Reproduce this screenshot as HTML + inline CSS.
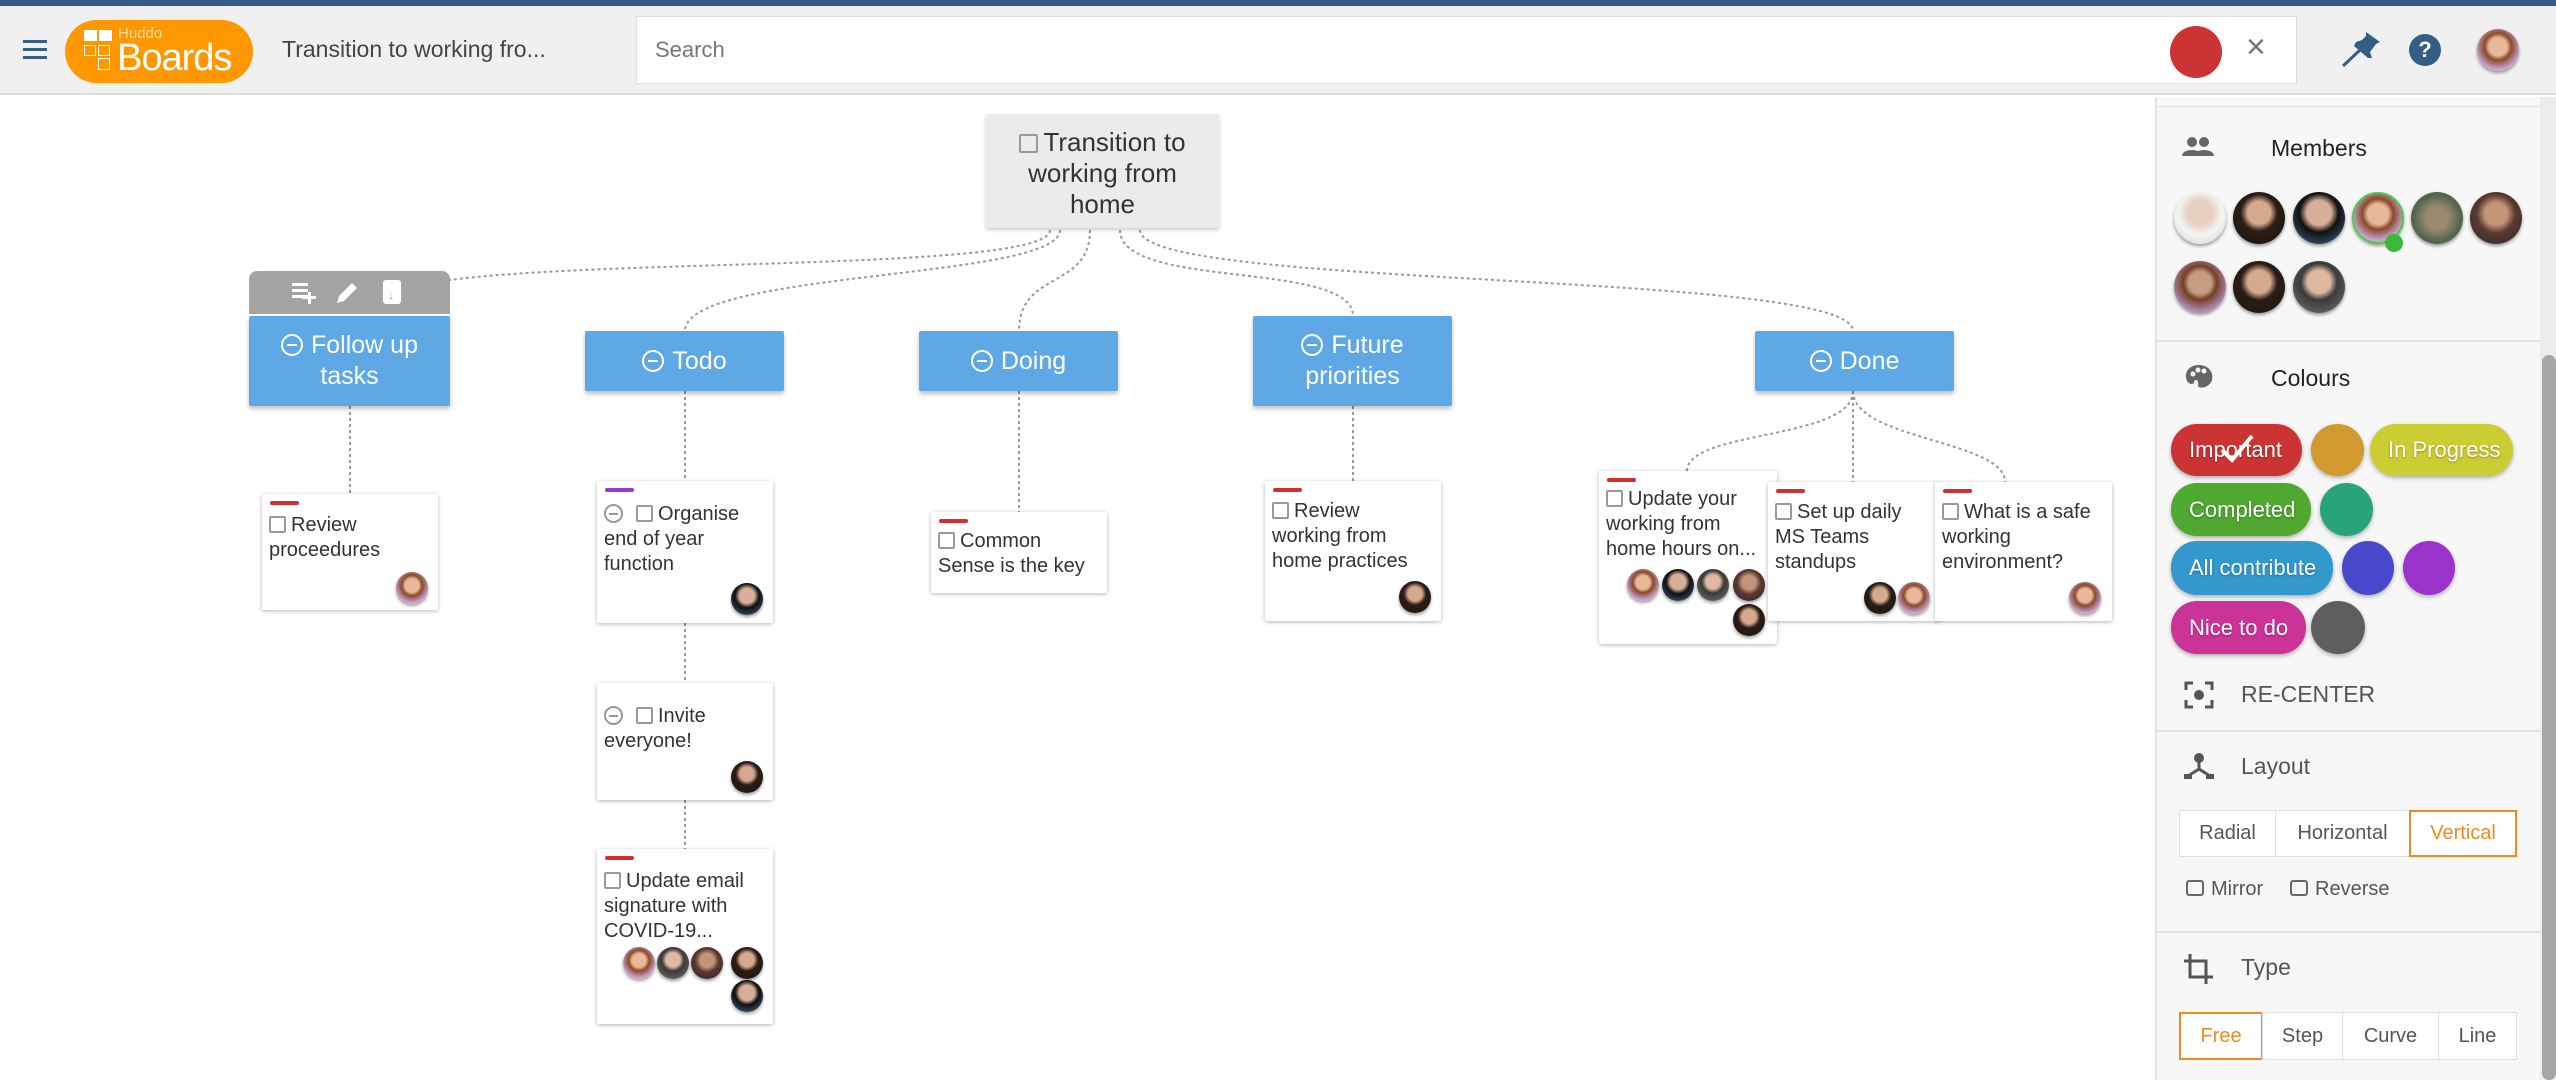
<!DOCTYPE html>
<html><head><meta charset="utf-8">
<style>
*{box-sizing:border-box;margin:0;padding:0}
body{width:2556px;height:1080px;overflow:hidden;background:#fff;font-family:"Liberation Sans",sans-serif;position:relative;color:#333}
.a{position:absolute}
.node{position:absolute;background:#5fa8e6;color:#fff;font-size:25px;text-align:center;display:flex;align-items:center;justify-content:center;line-height:31px;box-shadow:0 3px 5px rgba(0,0,0,.25);border-radius:2px}
.mc{display:inline-block;width:22px;height:22px;border:2px solid #fff;border-radius:50%;position:relative;vertical-align:-3px;margin-right:8px}
.mc:after{content:"";position:absolute;left:4px;right:4px;top:8px;height:2px;background:#fff}
.card{position:absolute;background:#fff;box-shadow:0 1px 4px rgba(0,0,0,.3);border-radius:2px;font-size:20px;line-height:25px;padding:0 7px;color:#333}
.bar{position:absolute;top:7px;left:8px;width:29px;height:4px;border-radius:2px;background:#d03030}
.cb{display:inline-block;width:17px;height:17px;border:2px solid #999;border-radius:2px;vertical-align:-2px;margin-right:5px}
.gc{display:inline-block;width:19px;height:19px;border:2px solid #999;border-radius:50%;position:relative;vertical-align:-3px;margin-right:13px}
.gc:after{content:"";position:absolute;left:3px;right:3px;top:6.5px;height:2px;background:#999}
.av{position:absolute;border-radius:50%;box-shadow:0 2px 3px rgba(0,0,0,.4)}
.f1{background:radial-gradient(circle at 50% 42%,#e8b898 0 28%,#8a4a2a 42%,#c9a0d0 70%,#e6d9b0 100%)}
.m1{background:radial-gradient(circle at 50% 40%,#d7a98c 0 28%,#2b1d15 45%,#1a1410 100%)}
.m2{background:radial-gradient(circle at 50% 40%,#e0b8a0 0 28%,#3a3a3a 45%,#777 100%)}
.m3{background:radial-gradient(circle at 50% 40%,#d8b09a 0 30%,#101010 48%,#4a6a9a 100%)}
.m4{background:radial-gradient(circle at 50% 40%,#e8d0c0 0 30%,#f4f4f4 55%,#ccc 100%)}
.m5{background:radial-gradient(circle at 50% 50%,#9a8a70 0 30%,#5a6a50 60%,#3a4a40 100%)}
.m6{background:radial-gradient(circle at 50% 42%,#c49478 0 28%,#5a3a30 48%,#2a2030 100%)}
.pill{position:absolute;border-radius:26px;color:#fff;font-size:22px;display:flex;align-items:center;padding-left:18px;box-shadow:0 2px 4px rgba(0,0,0,.3);text-shadow:0 1px 2px rgba(0,0,0,.3)}
.dot{position:absolute;border-radius:50%;box-shadow:0 2px 4px rgba(0,0,0,.3)}
.sh{position:absolute;font-size:23px;color:#222}
.btn{position:absolute;border:1px solid #ddd;background:#fff;font-size:20px;color:#555;display:flex;align-items:center;justify-content:center}
.sel{border:2px solid #f08a1c;color:#f08a1c}
.sep{position:absolute;left:2155px;width:386px;height:2px;background:#e2e2e2}
</style></head><body>
<div class="a" style="left:0;top:0;width:2556px;height:6px;background:#345e85"></div>
<div class="a" style="left:0;top:6px;width:2556px;height:89px;background:#f0f0f0;border-bottom:2px solid #ddd"></div>
<div class="a" style="left:23px;top:40px;width:24px;height:3px;background:#345e85;box-shadow:0 8px 0 #345e85,0 16px 0 #345e85"></div>
<div class="a" style="left:65px;top:20px;width:188px;height:63px;border-radius:32px;background:#ff9800"></div>
<div class="a" style="left:84px;top:30px;width:13px;height:11px;background:#fff;box-shadow:15px 0 0 #fff"></div>
<div class="a" style="left:84px;top:45px;width:12px;height:11px;border:1.5px solid #fff"></div>
<div class="a" style="left:98px;top:45px;width:12px;height:11px;border:1.5px solid #fff"></div>
<div class="a" style="left:98px;top:58px;width:12px;height:12px;border:1.5px solid #fff"></div>
<div class="a" style="left:118px;top:25px;font-size:15px;color:#ffd89a;font-family:'Liberation Sans Narrow','Liberation Sans',sans-serif">Huddo</div>
<div class="a" style="left:117px;top:37px;font-size:38px;color:#fff;font-family:'Liberation Sans Narrow','Liberation Sans',sans-serif;letter-spacing:-1px">Boards</div>
<div class="a" style="left:282px;top:36px;font-size:23px;color:#444">Transition to working fro...</div>
<div class="a" style="left:636px;top:16px;width:1661px;height:68px;background:#fff;border:1px solid #ddd"></div>
<div class="a" style="left:655px;top:37px;font-size:22px;color:#777">Search</div>
<div class="a" style="left:2170px;top:26px;width:52px;height:52px;border-radius:50%;background:#cc3333"></div>
<div class="a" style="left:2246px;top:28px;font-size:34px;color:#777">×</div>
<svg class="a" style="left:2340px;top:28px" width="48" height="44" viewBox="0 0 48 44"><path d="M3 38 L20 22" stroke="#345e85" stroke-width="3"/><path d="M26 4 L40 14 L36 16 L30 24 L32 30 L28 30 L14 18 L16 14 L22 12 L26 8Z" fill="#345e85"/></svg>
<div class="a" style="left:2409px;top:34px;width:32px;height:32px;border-radius:50%;background:#345e85;color:#fff;font-weight:bold;font-size:22px;text-align:center;line-height:32px">?</div>
<div class="av f1" style="left:2477px;top:29px;width:42px;height:42px"></div>

<svg class="a" style="left:0;top:0" width="2155" height="1080">
<g fill="none" stroke="#999" stroke-width="2" stroke-dasharray="3,3">
<path d="M1050 230 C1050 280, 391 250, 391 301"/>
<path d="M1060 230 C1060 280, 685 270, 685 331"/>
<path d="M1090 230 C1090 290, 1019 270, 1019 331"/>
<path d="M1120 230 C1120 290, 1353 260, 1353 316"/>
<path d="M1140 230 C1140 290, 1853 270, 1853 331"/>
<path d="M350 406 V494"/>
<path d="M685 391 V481 M685 623 V683 M685 800 V849"/>
<path d="M1019 391 V512"/>
<path d="M1353 406 V481"/>
<path d="M1853 391 V482"/>
<path d="M1853 391 C1853 440, 1687 430, 1687 471"/>
<path d="M1853 391 C1853 440, 2005 440, 2005 482"/>
</g></svg>

<div class="a" style="left:986px;top:114px;width:233px;height:114px;background:#ebebeb;box-shadow:0 2px 4px rgba(0,0,0,.2);font-size:26px;line-height:31px;text-align:center;padding-top:13px;color:#333"><span class="cb" style="width:19px;height:19px"></span>Transition to<br>working from<br>home</div>

<div class="a" style="left:249px;top:271px;width:201px;height:43px;background:#a3a3a3;border-radius:8px 8px 0 0"></div>
<div class="a" style="left:292px;top:283px;width:16px;height:3px;background:#fff;box-shadow:0 6px 0 #fff,0 12px 0 #fff"></div>
<div class="a" style="left:308px;top:292px;width:3px;height:12px;background:#fff"></div>
<div class="a" style="left:302px;top:296px;width:14px;height:3px;background:#fff"></div>
<svg class="a" style="left:334px;top:280px" width="26" height="26"><path d="M3 23 L5 16 L18 3 L23 8 L10 21Z" fill="#fff"/></svg>
<div class="a" style="left:383px;top:280px;width:18px;height:24px;background:#fff;border-radius:3px"></div>
<div class="a" style="left:388px;top:288px;color:#a3a3a3;font-size:12px;font-weight:bold">↓</div>

<div class="node" style="left:249px;top:316px;width:201px;height:90px"><div><span class="mc"></span>Follow up<br>tasks</div></div>
<div class="node" style="left:585px;top:331px;width:199px;height:60px"><div><span class="mc"></span>Todo</div></div>
<div class="node" style="left:919px;top:331px;width:199px;height:60px"><div><span class="mc"></span>Doing</div></div>
<div class="node" style="left:1253px;top:316px;width:199px;height:90px"><div><span class="mc"></span>Future<br>priorities</div></div>
<div class="node" style="left:1755px;top:331px;width:199px;height:60px"><div><span class="mc"></span>Done</div></div>

<div class="card" style="left:262px;top:494px;width:176px;height:116px;padding-top:19px"><div class="bar"></div><span class="cb"></span>Review<br>proceedures<div class="av f1" style="left:134px;top:78px;width:32px;height:32px"></div></div>

<div class="card" style="left:597px;top:481px;width:176px;height:142px;padding-top:21px"><div class="bar" style="background:#9a3acc"></div><span class="gc"></span><span class="cb"></span>Organise<br>end of year<br>function<div class="av m3" style="left:134px;top:102px;width:32px;height:32px"></div></div>

<div class="card" style="left:597px;top:683px;width:176px;height:117px;padding-top:21px"><span class="gc"></span><span class="cb"></span>Invite<br>everyone!<div class="av m1" style="left:134px;top:78px;width:32px;height:32px"></div></div>

<div class="card" style="left:597px;top:849px;width:176px;height:175px;padding-top:20px"><div class="bar"></div><span class="cb"></span>Update email<br>signature with<br>COVID-19...
<div class="av f1" style="left:26px;top:98px;width:32px;height:32px"></div>
<div class="av m2" style="left:60px;top:98px;width:32px;height:32px"></div>
<div class="av m6" style="left:94px;top:98px;width:32px;height:32px"></div>
<div class="av m1" style="left:134px;top:98px;width:32px;height:32px"></div>
<div class="av m3" style="left:134px;top:131px;width:32px;height:32px"></div></div>

<div class="card" style="left:931px;top:512px;width:176px;height:81px;padding-top:17px"><div class="bar"></div><span class="cb"></span>Common<br>Sense is the key</div>

<div class="card" style="left:1265px;top:481px;width:176px;height:140px;padding-top:18px"><div class="bar"></div><span class="cb"></span>Review<br>working from<br>home practices<div class="av m1" style="left:134px;top:100px;width:32px;height:32px"></div></div>

<div class="card" style="left:1599px;top:471px;width:178px;height:173px;padding-top:16px"><div class="bar"></div><span class="cb"></span>Update your<br>working from<br>home hours on...
<div class="av f1" style="left:28px;top:98px;width:32px;height:32px"></div>
<div class="av m3" style="left:63px;top:98px;width:32px;height:32px"></div>
<div class="av m2" style="left:98px;top:98px;width:32px;height:32px"></div>
<div class="av m6" style="left:134px;top:98px;width:32px;height:32px"></div>
<div class="av m1" style="left:134px;top:133px;width:32px;height:32px"></div></div>

<div class="card" style="left:1768px;top:482px;width:172px;height:139px;padding-top:18px"><div class="bar"></div><span class="cb"></span>Set up daily<br>MS Teams<br>standups
<div class="av m1" style="left:96px;top:100px;width:32px;height:32px"></div>
<div class="av f1" style="left:130px;top:100px;width:32px;height:32px"></div></div>

<div class="card" style="left:1935px;top:482px;width:177px;height:139px;padding-top:18px"><div class="bar"></div><span class="cb"></span>What is a safe<br>working<br>environment?<div class="av f1" style="left:134px;top:100px;width:32px;height:32px"></div></div>

<div class="a" style="left:2155px;top:97px;width:401px;height:983px;background:#f7f7f7;border-left:2px solid #e2e2e2"></div>
<div class="a" style="left:2540px;top:97px;width:16px;height:983px;background:#ececec"></div>
<div class="a" style="left:2542px;top:355px;width:14px;height:725px;background:#a6a6a6;border-radius:7px"></div>
<div class="sep" style="top:106px;height:1px"></div>
<svg class="a" style="left:2182px;top:136px" width="32" height="22"><circle cx="10" cy="6" r="5" fill="#666"/><circle cx="22" cy="6" r="5" fill="#666"/><path d="M0 20 C0 12,20 12,20 20Z M12 20 C12 12,32 12,32 20Z" fill="#666"/></svg>
<div class="sh" style="left:2271px;top:135px">Members</div>
<div class="av m4" style="left:2174px;top:192px;width:52px;height:52px"></div>
<div class="av m1" style="left:2233px;top:192px;width:52px;height:52px"></div>
<div class="av m3" style="left:2293px;top:192px;width:52px;height:52px"></div>
<div class="av f1" style="left:2352px;top:192px;width:52px;height:52px;border:2px solid #4c4"></div>
<div class="a" style="left:2385px;top:234px;width:18px;height:18px;border-radius:50%;background:#3ab83a"></div>
<div class="av m5" style="left:2411px;top:192px;width:52px;height:52px"></div>
<div class="av m6" style="left:2470px;top:192px;width:52px;height:52px"></div>
<div class="av f1" style="left:2174px;top:261px;width:52px;height:52px;filter:brightness(.85)"></div>
<div class="av m1" style="left:2233px;top:261px;width:52px;height:52px"></div>
<div class="av m2" style="left:2293px;top:261px;width:52px;height:52px"></div>
<div class="sep" style="top:340px"></div>
<svg class="a" style="left:2185px;top:364px" width="28" height="26"><path d="M14 1 C4 1,0 8,1 14 C2 20,8 22,9 18 C10 14,14 16,13 21 C12 25,24 25,27 16 C29 7,22 1,14 1Z" fill="#666"/><circle cx="8" cy="10" r="2.5" fill="#f7f7f7"/><circle cx="13" cy="6" r="2.5" fill="#f7f7f7"/><circle cx="19" cy="7" r="2.5" fill="#f7f7f7"/></svg>
<div class="sh" style="left:2271px;top:365px">Colours</div>
<div class="pill" style="left:2171px;top:424px;width:131px;height:52px;background:#cc3333">Important</div>
<svg class="a" style="left:2218px;top:430px" width="40" height="36"><path d="M4 20 L14 30 L34 6" fill="none" stroke="#fff" stroke-width="4"/></svg>
<div class="dot" style="left:2311px;top:424px;width:53px;height:52px;background:#d09a30"></div>
<div class="pill" style="left:2370px;top:424px;width:143px;height:52px;background:#cccc33">In Progress</div>
<div class="pill" style="left:2171px;top:483px;width:140px;height:53px;background:#4fa82f">Completed</div>
<div class="dot" style="left:2320px;top:483px;width:53px;height:53px;background:#28a47a"></div>
<div class="pill" style="left:2171px;top:541px;width:162px;height:54px;background:#3399cc">All contribute</div>
<div class="dot" style="left:2342px;top:541px;width:52px;height:54px;background:#4848cc"></div>
<div class="dot" style="left:2403px;top:541px;width:52px;height:54px;background:#9933cc"></div>
<div class="pill" style="left:2171px;top:601px;width:135px;height:53px;background:#cc3399">Nice to do</div>
<div class="dot" style="left:2311px;top:601px;width:54px;height:53px;background:#5e5e5e"></div>
<svg class="a" style="left:2184px;top:681px" width="30" height="28"><path d="M2 9V2H9 M21 2H28V9 M28 19V26H21 M9 26H2V19" fill="none" stroke="#555" stroke-width="3"/><circle cx="15" cy="14" r="5" fill="#555"/></svg>
<div class="sh" style="left:2241px;top:681px;color:#555">RE-CENTER</div>
<div class="sep" style="top:730px"></div>
<svg class="a" style="left:2184px;top:752px" width="30" height="28"><circle cx="15" cy="6" r="5" fill="#555"/><path d="M15 10V17 L4 24 M15 17 L26 24" stroke="#555" stroke-width="3" fill="none"/><rect x="0" y="22" width="8" height="5" fill="#555"/><rect x="22" y="22" width="8" height="5" fill="#555"/></svg>
<div class="sh" style="left:2241px;top:753px;color:#555">Layout</div>
<div class="btn" style="left:2179px;top:810px;width:97px;height:47px">Radial</div>
<div class="btn" style="left:2275px;top:810px;width:135px;height:47px">Horizontal</div>
<div class="btn sel" style="left:2409px;top:810px;width:108px;height:47px">Vertical</div>
<div class="a" style="left:2186px;top:880px;width:18px;height:16px;border:2px solid #666;border-radius:3px"></div>
<div class="a" style="left:2211px;top:878px;font-size:20px;color:#555">Mirror</div>
<div class="a" style="left:2290px;top:880px;width:18px;height:16px;border:2px solid #666;border-radius:3px"></div>
<div class="a" style="left:2315px;top:878px;font-size:20px;color:#555">Reverse</div>
<div class="sep" style="top:931px"></div>
<svg class="a" style="left:2183px;top:954px" width="32" height="32"><path d="M7 0V23H30 M1 7H23V30" fill="none" stroke="#555" stroke-width="3"/></svg>
<div class="sh" style="left:2241px;top:954px;color:#555">Type</div>
<div class="btn sel" style="left:2179px;top:1012px;width:84px;height:48px">Free</div>
<div class="btn" style="left:2262px;top:1012px;width:81px;height:48px">Step</div>
<div class="btn" style="left:2342px;top:1012px;width:97px;height:48px">Curve</div>
<div class="btn" style="left:2438px;top:1012px;width:79px;height:48px">Line</div>
</body></html>
